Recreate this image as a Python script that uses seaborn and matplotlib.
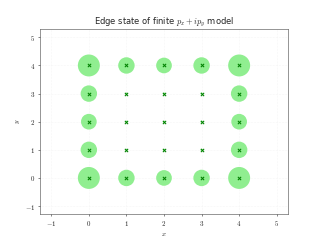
import pandas as pd
import matplotlib
matplotlib.use("Agg")
import matplotlib.pyplot as plt
import seaborn as sns

# lattice sites and edge-state weight on each site
xs = [0, 1, 2, 3, 4] * 5
ys = [0] * 5 + [1] * 5 + [2] * 5 + [3] * 5 + [4] * 5
weight = [1.00, 0.56, 0.51, 0.56, 1.00,
          0.56, 0.01, 0.01, 0.01, 0.56,
          0.51, 0.01, 0.01, 0.01, 0.51,
          0.56, 0.01, 0.01, 0.01, 0.56,
          1.00, 0.56, 0.51, 0.56, 1.00]

df = pd.DataFrame({'x': xs, 'y': ys, 'w': weight})
df['s'] = df['w'] * 1000

sns.set_style("ticks")
plt.rcParams['font.family'] = ['DejaVu Sans']
plt.rcParams['mathtext.fontset'] = 'cm'

fig, ax = plt.subplots(figsize=(6.4, 4.82), dpi=50)

# probability circles
ax.scatter(df['x'], df['y'], s=df['s'], color='lightgreen', linewidths=0, zorder=2)
# site markers
sns.scatterplot(data=df, x='x', y='y', marker='x', color='green', s=22,
                linewidth=1.5, ax=ax, zorder=3)

ticks = [-1, 0, 1, 2, 3, 4, 5]
ax.set_xticks(ticks)
ax.set_yticks(ticks)
ax.set_xticklabels([f"${t}$" for t in ticks])
ax.set_yticklabels([f"${t}$" for t in ticks])
ax.set_xlim(-1.3, 5.3)
ax.set_ylim(-1.3, 5.3)
ax.grid(True, linestyle=':', color='#eeeeee', linewidth=0.8, zorder=0)
ax.set_axisbelow(True)
for sp in ax.spines.values():
    sp.set_color('#444444')

ax.set_title(r"Edge state of finite $p_x + ip_y$ model")
ax.set_xlabel("$x$")
ax.set_ylabel("$y$")

fig.savefig("out.png", dpi=50)
